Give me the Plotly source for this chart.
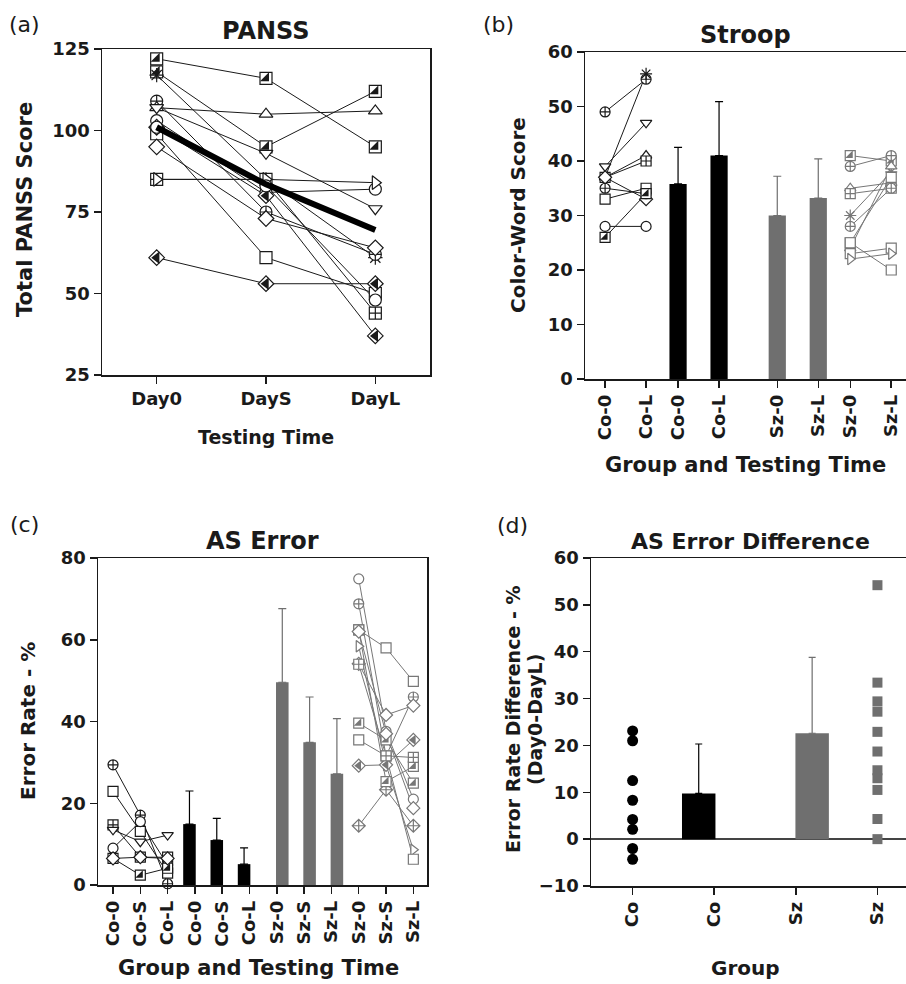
import plotly.graph_objects as go

# ======================= DATA =======================
# (a) PANSS
panss_times = ["Day0", "DayS", "DayL"]
panss_mean = [101, 83.5, 69.5]
panss_symbols = ["hsq", "hsq", "ast", "cx", "tu", "td", "ci", "sq", "di", "sqx", "tr", "hdi", "hdi", "ci"]
panss_scores = [
    [122, 116, 95],
    [118, 95, 112],
    [117, 85, 61],
    [109, 75, 62],
    [107, 105, 106],
    [107, 93, 76],
    [103, 81, 82],
    [99, 61, 50],
    [95, 73, 64],
    [85, 85, 44],
    [85, 85, 84],
    [61, 53, 53],
    [101, 80, 37],
    [101, 83, 48],
]

# (b) Stroop
stroop_labels = ["Co-0", "Co-L", "Co-0", "Co-L", "Sz-0", "Sz-L", "Sz-0", "Sz-L"]
stroop_bar_means = [35.8, 41.0, 30.0, 33.2]
stroop_bar_sd = [6.7, 9.9, 7.2, 7.2]
stroop_co_day0 = [49, 39, 37, 37, 37, 37, 35, 33, 28, 26]
stroop_co_dayL = [55, 47, 56, 41, 40, 33, 34, 35, 28, 34]
stroop_co_symbols = ["cx", "td", "ast", "tu", "sqx", "di", "cx", "sq", "ci", "hsq"]
stroop_sz_day0 = [41, 39, 35, 34, 30, 28, 25, 24, 23, 22, 25]
stroop_sz_dayL = [40, 41, 36, 35, 38, 35, 20, 39, 24, 23, 37]
stroop_sz_symbols = ["hsq", "cx", "tu", "sqx", "ast", "cx", "sq", "tu", "sq", "tr", "sq"]

# (c) AS Error
as_labels = ["Co-0", "Co-S", "Co-L", "Co-0", "Co-S", "Co-L",
             "Sz-0", "Sz-S", "Sz-L", "Sz-0", "Sz-S", "Sz-L"]
as_bar_means = [14.9, 11.0, 5.1, 49.6, 34.9, 27.2]
as_bar_sd = [8.1, 5.3, 4.0, 18.0, 11.1, 13.5]
as_co_symbols = ["cx", "sq", "sqx", "td", "ci", "hsq", "di"]
as_co_scores = [
    [29.4, 17.1, 0.3],
    [22.9, 13.1, 2.9],
    [14.7, 6.8, 6.8],
    [13.5, 10.6, 12.2],
    [9.0, 15.5, 4.9],
    [6.5, 2.4, 4.1],
    [6.5, 6.8, 6.5],
]
as_sz_symbols = ["ci", "cx", "sq", "tr", "di", "hsq", "sq", "hdi", "dix", "hsq", "sqx", "di"]
as_sz_scores = [
    [74.9, 37.6, 21.0],
    [68.8, 31.6, 46.0],
    [62.4, 58.0, 49.8],
    [58.4, 29.4, 8.6],
    [54.1, 41.6, 43.9],
    [39.6, 35.5, 24.9],
    [35.5, 31.6, 6.3],
    [29.2, 29.4, 35.5],
    [14.5, 23.3, 14.5],
    [62.4, 25.3, 29.0],
    [54.0, 31.6, 31.2],
    [62.0, 37.0, 18.8],
]

# (d) AS Error Difference
diff_labels = ["Co", "Co", "Sz", "Sz"]
diff_co = [23.1, 21.0, 12.5, 8.3, 4.2, 2.1, -2.0, -4.3]
diff_sz = [54.2, 33.4, 29.4, 27.2, 22.9, 18.7, 14.7, 13.0, 10.5, 4.3, 0.0]
diff_bar_means = [9.75, 22.6]
diff_bar_sd = [10.55, 16.2]

# ======================= STYLE / LAYOUT CONSTANTS =======================
W, H = 906, 984
FONT = "DejaVu Sans, Liberation Sans, Arial, sans-serif"
INK = "#1a1a1a"
GRAY = "#777777"
BAR_GRAY = "#6f6f6f"

STROOP_POS = [0, 1, 1.78, 2.78, 4.2, 5.2, 5.98, 6.98]
AS_POS = list(range(12))
DIFF_POS = [0, 1, 2, 3]

SYM = {
    "sq": ("square", None), "hsq": ("square", "triangle-se"),
    "ast": ("asterisk-open", None), "cx": ("circle-cross", None),
    "tu": ("triangle-up", None), "td": ("triangle-down", None),
    "tr": ("triangle-right", None), "ci": ("circle", None),
    "di": ("diamond", None), "sqx": ("square-cross", None),
    "hdi": ("diamond", "triangle-left"), "dix": ("diamond-cross", None),
}


def px_x(p):
    return p / W


def px_y(p):
    return 1 - p / H


fig = go.Figure()


def add_profiles(xs, rows, syms, color, size, xa, ya):
    for vals in rows:
        fig.add_trace(go.Scatter(x=xs, y=vals, mode="lines", xaxis=xa, yaxis=ya,
                                 line=dict(color=color, width=1), hoverinfo="skip",
                                 showlegend=False, cliponaxis=False))
    for vals, s in zip(rows, syms):
        base, over = SYM[s]
        if base.endswith("-open"):
            mk = dict(symbol=base, size=size, color=color, line=dict(color=color, width=1.2))
        else:
            mk = dict(symbol=base, size=size, color="white", line=dict(color=color, width=1.2))
        fig.add_trace(go.Scatter(x=xs, y=vals, mode="markers", xaxis=xa, yaxis=ya,
                                 marker=mk, showlegend=False, cliponaxis=False))
        if over:
            k = 0.83 if over == "triangle-se" else 0.9
            fig.add_trace(go.Scatter(x=xs, y=vals, mode="markers", xaxis=xa, yaxis=ya,
                                     marker=dict(symbol=over, size=size * k, color=color,
                                                 line=dict(width=0)),
                                     showlegend=False, cliponaxis=False))


def add_bars(xs, means, sds, color, width, xa, ya, cap):
    fig.add_trace(go.Bar(x=xs, y=means, width=width, xaxis=xa, yaxis=ya,
                         marker=dict(color=color, line=dict(width=0)), showlegend=False,
                         error_y=dict(type="data", symmetric=False, array=sds,
                                      arrayminus=[0] * len(sds), color=color,
                                      thickness=1.2, width=cap)))


# ---- (a) PANSS
add_profiles([0, 1, 2], panss_scores, panss_symbols, INK, 12, "x", "y")
fig.add_trace(go.Scatter(x=[0, 1, 2], y=panss_mean, mode="lines", xaxis="x", yaxis="y",
                         line=dict(color="black", width=6), showlegend=False))

# ---- (b) Stroop
add_profiles([STROOP_POS[0], STROOP_POS[1]],
             [[a, b] for a, b in zip(stroop_co_day0, stroop_co_dayL)],
             stroop_co_symbols, INK, 10, "x2", "y2")
add_bars(STROOP_POS[2:4], stroop_bar_means[:2], stroop_bar_sd[:2], "black", 0.42, "x2", "y2", 4)
add_bars(STROOP_POS[4:6], stroop_bar_means[2:], stroop_bar_sd[2:], BAR_GRAY, 0.42, "x2", "y2", 4)
add_profiles([STROOP_POS[6], STROOP_POS[7]],
             [[a, b] for a, b in zip(stroop_sz_day0, stroop_sz_dayL)],
             stroop_sz_symbols, GRAY, 10, "x2", "y2")

# ---- (c) AS Error
add_profiles(AS_POS[0:3], as_co_scores, as_co_symbols, INK, 10, "x3", "y3")
add_bars([p - 0.2 for p in AS_POS[3:6]], as_bar_means[:3], as_bar_sd[:3], "black", 0.46, "x3", "y3", 4)
add_bars([p + 0.2 for p in AS_POS[6:9]], as_bar_means[3:], as_bar_sd[3:], BAR_GRAY, 0.46, "x3", "y3", 4)
add_profiles(AS_POS[9:12], as_sz_scores, as_sz_symbols, GRAY, 10, "x3", "y3")

# ---- (d) AS Error Difference
fig.add_trace(go.Scatter(x=[DIFF_POS[0]] * len(diff_co), y=diff_co, mode="markers",
                         xaxis="x4", yaxis="y4", cliponaxis=False, showlegend=False,
                         marker=dict(symbol="circle", size=11, color="black")))
add_bars([DIFF_POS[1] - 0.19], diff_bar_means[:1], diff_bar_sd[:1], "black", 0.41, "x4", "y4", 3.5)
add_bars([DIFF_POS[2] + 0.2], diff_bar_means[1:], diff_bar_sd[1:], BAR_GRAY, 0.41, "x4", "y4", 3.5)
fig.add_trace(go.Scatter(x=[DIFF_POS[3]] * len(diff_sz), y=diff_sz, mode="markers",
                         xaxis="x4", yaxis="y4", cliponaxis=False, showlegend=False,
                         marker=dict(symbol="square", size=10, color=BAR_GRAY)))

# ======================= AXES =======================
tickfont = dict(family=FONT, size=18, color=INK, weight="bold")
common = dict(showline=True, mirror=True, linecolor=INK, linewidth=1.5, ticks="outside",
              ticklen=7, tickwidth=1.5, tickcolor=INK, showgrid=False, zeroline=False,
              tickfont=tickfont, fixedrange=True, automargin=False)

fig.update_layout(
    template="none",
    width=W, height=H, margin=dict(l=0, r=0, t=0, b=0, pad=0),
    paper_bgcolor="white", plot_bgcolor="white", showlegend=False,
    barmode="overlay",
    xaxis=dict(common, domain=[px_x(102), px_x(430)], range=[-0.5, 2.5], anchor="y",
               tickvals=[0, 1, 2], ticktext=panss_times),
    yaxis=dict(common, domain=[px_y(375), px_y(49)], range=[25, 125], anchor="x",
               tickvals=[25, 50, 75, 100, 125]),
    xaxis2=dict(common, domain=[px_x(585), 1.0], range=[-0.49, 7.34], anchor="y2",
                tickvals=STROOP_POS, ticktext=stroop_labels, tickangle=-90),
    yaxis2=dict(common, domain=[px_y(379), px_y(52)], range=[0, 60], anchor="x2",
                tickvals=[0, 10, 20, 30, 40, 50, 60]),
    xaxis3=dict(common, domain=[px_x(98), px_x(427)], range=[-0.55, 11.5], anchor="y3",
                tickvals=AS_POS, ticktext=as_labels, tickangle=-90),
    yaxis3=dict(common, domain=[px_y(885), px_y(558)], range=[0, 80], anchor="x3",
                tickvals=[0, 20, 40, 60, 80]),
    xaxis4=dict(common, domain=[px_x(591), 1.0], range=[-0.51, 3.35], anchor="y4",
                tickvals=DIFF_POS, ticktext=diff_labels, tickangle=-90),
    yaxis4=dict(common, domain=[px_y(886), px_y(558)], range=[-10, 60], anchor="x4",
                tickvals=[-10, 0, 10, 20, 30, 40, 50, 60],
                zeroline=True, zerolinecolor="#444444", zerolinewidth=1.5),
)

# ======================= TEXT =======================
def ann(text, x, y, size, bold=True, angle=0):
    fig.add_annotation(text=text, x=px_x(x), y=px_y(y), xref="paper", yref="paper",
                       showarrow=False, textangle=angle, xanchor="center", yanchor="middle",
                       font=dict(family=FONT, size=size, color=INK,
                                 weight="bold" if bold else "normal"))

# panel titles
ann("PANSS", 266, 31, 24)
ann("Stroop", 745, 35, 24)
ann("AS Error", 262, 541, 24)
ann("AS Error Difference", 750, 541, 22)
# panel letters
ann("(a)", 24, 24, 22, bold=False)
ann("(b)", 498, 24, 22, bold=False)
ann("(c)", 24, 524, 22, bold=False)
ann("(d)", 512, 525, 22, bold=False)
# axis titles
ann("Total PANSS Score", 25, 210, 21, angle=-90)
ann("Testing Time", 266, 437, 19)
ann("Color-Word Score", 518, 215, 20, angle=-90)
ann("Group and Testing Time", 745, 465, 21)
ann("Error Rate - %", 28, 721, 20, angle=-90)
ann("Group and Testing Time", 258, 968, 21)
ann("Error Rate Difference - %", 513, 720, 19, angle=-90)
ann("(Day0-DayL)", 535, 720, 19, angle=-90)
ann("Group", 745, 968, 20)

fig.write_html("out.html", config={"displayModeBar": False, "staticPlot": True},
               post_script="document.body.style.margin='0';document.body.style.overflow='hidden';")
